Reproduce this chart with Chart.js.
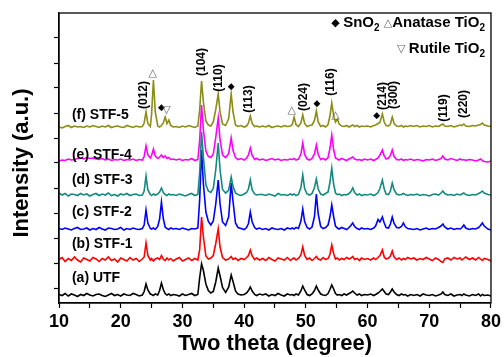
<!DOCTYPE html>
<html>
<head>
<meta charset="utf-8">
<script src="https://cdn.jsdelivr.net/npm/chart.js@4.4.0/dist/chart.umd.min.js"></script>
<style>
  html, body { margin: 0; padding: 0; background: #fff; }
</style>
</head>
<body>
<canvas id="xrd" width="504" height="357"></canvas>
<script>
// DATA - 2 theta grid (degree), shared by every pattern
const twoTheta = [
  10,10.5,11,11.5,12,12.5,13,13.5,14,14.5,15,15.5,16,16.5,17,17.5,18,18.5,19,19.5,20,20.5,21,21.5,22,22.5,23,23.5,
  23.8,24.1,24.4,24.8,25.0,25.3,25.6,26.0,26.3,26.6,26.9,27.2,27.5,27.8,28.1,28.5,
  29,29.5,30,30.5,31,31.5,32,32.5,
  32.8,33.1,33.4,33.8,34.2,34.6,35.0,35.4,35.8,36.1,36.5,37.0,37.5,37.9,38.2,38.6,39,39.5,40,40.4,40.7,41.0,41.3,41.7,42,42.5,
  43,43.5,44,44.5,45,45.5,46,46.5,47,47.5,
  47.8,48.1,48.4,48.8,49.2,49.5,49.8,50.2,50.6,51.0,51.4,51.7,52.0,52.4,52.8,53.2,53.6,53.9,54.2,54.5,54.8,55.1,55.4,55.8,56.2,56.6,57.0,57.3,57.6,57.9,58.3,58.7,59,59.5,
  60,60.5,61,61.3,61.7,62.0,62.4,62.7,63.0,63.4,63.7,64.0,64.3,64.7,65.1,65.5,65.8,66.1,66.5,67,
  67.5,68,68.5,69,69.5,70,70.5,71,71.5,71.9,72.2,72.5,73,73.5,74,74.5,75,75.3,75.6,75.9,76.5,77,77.5,78,78.3,78.6,78.9,79.5,80
];

// intensities (a.u.)
const utf = [
  22,18,26,16,24,20,14,22,18,26,20,16,22,24,18,14,20,26,18,22,16,24,20,18,26,22,16,20,
  34,64,40,24,22,18,24,20,38,68,42,26,20,24,18,22,
  20,16,24,18,22,26,18,22,
  90,144,118,64,38,28,34,72,128,96,50,30,52,100,74,36,24,20,22,28,38,52,36,22,18,24,
  20,24,16,22,18,26,20,16,24,20,
  22,18,24,20,36,56,40,22,18,24,38,56,40,24,20,18,26,42,60,44,26,20,22,18,24,20,26,30,36,28,20,24,18,22,
  20,24,18,22,28,34,44,34,24,22,32,44,32,22,18,24,20,22,16,22,
  18,22,16,24,20,18,22,16,20,24,32,22,18,24,16,20,22,18,24,20,16,22,18,24,16,22,18,20,16
];
const stf1 = [
  20,28,12,24,16,30,18,10,26,20,14,28,22,12,24,18,30,16,22,10,26,20,14,28,18,24,12,22,
  30,86,36,18,24,14,22,26,20,36,22,16,26,18,24,14,
  22,28,14,20,26,16,24,18,
  60,190,110,34,22,26,36,84,142,70,28,18,22,32,20,26,16,24,20,28,36,58,34,20,26,18,
  24,16,28,20,14,26,22,18,28,16,
  22,26,18,24,38,70,36,20,26,16,24,32,22,18,28,20,24,40,78,44,22,26,18,24,20,28,22,26,32,20,24,16,26,20,
  24,18,26,20,28,36,58,30,22,26,34,54,30,20,26,18,24,20,28,22,
  26,18,24,20,28,22,16,26,20,12,8,22,26,18,28,22,26,18,24,30,20,26,18,28,22,16,24,20,14
];
const stf2 = [
  22,18,24,20,16,22,26,18,20,24,16,22,18,26,20,16,24,22,18,20,26,16,22,18,24,20,18,22,
  36,96,44,22,20,24,18,30,60,128,62,28,22,18,24,20,
  22,18,24,20,16,22,20,24,
  140,336,200,88,50,36,52,120,216,120,48,34,70,204,130,44,26,22,18,26,42,88,48,26,20,24,
  18,22,16,24,20,18,22,16,24,20,
  24,20,26,22,52,100,50,26,20,28,70,160,80,30,22,26,36,68,116,70,32,24,20,26,22,18,26,34,44,30,22,18,24,20,
  22,18,24,32,58,48,68,44,26,24,40,68,42,26,24,30,44,30,22,20,
  18,22,16,20,24,18,22,20,26,32,40,28,20,24,18,22,20,26,36,24,18,22,20,26,34,44,32,20,16
];
const stf3 = [
  28,20,26,16,24,22,18,26,20,24,16,22,26,18,24,20,28,18,22,16,24,20,26,18,22,24,18,20,
  36,96,40,22,18,24,20,24,32,48,30,22,18,24,20,22,
  18,24,20,16,22,26,18,22,
  110,272,170,62,36,30,46,120,228,120,42,28,40,92,54,28,22,18,24,30,44,80,40,24,20,22,
  22,18,24,20,16,26,20,22,18,24,
  20,24,18,22,50,100,46,24,20,26,50,84,44,24,20,26,32,70,128,64,28,22,24,18,22,20,26,34,48,30,20,24,18,22,
  20,24,18,22,30,46,80,44,24,22,36,68,40,24,20,22,26,22,18,22,
  20,24,18,22,20,16,22,24,20,28,36,26,20,22,18,24,20,24,28,22,18,22,20,26,30,36,28,22,20
];
const stf4 = [
  16,20,18,24,20,22,26,28,24,30,26,28,24,22,26,20,24,18,22,20,24,18,22,20,24,18,22,20,
  34,76,40,28,38,64,36,26,32,40,30,36,26,30,22,24,
  20,24,18,22,20,26,18,22,
  100,240,140,56,34,30,44,110,188,100,40,30,46,108,58,30,22,26,20,28,40,68,38,22,26,20,
  24,18,22,26,20,24,18,22,20,24,
  22,26,20,24,44,88,42,24,20,26,44,80,42,22,26,20,30,66,120,62,28,24,20,26,22,18,24,28,32,24,20,22,18,24,
  20,24,18,22,28,40,60,36,24,28,38,60,34,22,20,24,18,22,20,24,
  18,22,20,16,22,20,24,18,22,26,36,24,20,26,22,18,24,20,22,18,22,20,16,20,24,18,14,12,16
];
const stf5 = [
  20,16,22,26,18,24,20,22,18,24,20,26,22,18,24,20,26,18,22,24,20,18,26,22,18,24,20,22,
  36,80,34,22,70,208,80,24,20,26,36,60,34,48,26,20,
  22,18,24,20,26,22,18,24,
  90,204,120,44,28,24,40,90,152,80,32,26,54,152,80,28,22,26,20,24,36,64,34,22,24,20,
  24,20,26,18,22,24,20,26,22,24,
  30,60,30,22,36,68,34,22,26,28,46,84,40,22,26,20,30,64,116,66,40,52,32,24,22,26,20,24,28,22,26,20,24,22,
  24,20,26,28,34,38,72,40,26,24,32,60,34,24,22,26,20,24,22,26,
  22,26,20,24,22,26,20,24,22,28,32,24,22,26,20,24,28,26,32,24,22,26,24,28,30,36,28,24,22
];

// stacking: vertical shift of each pattern
const sampleNames = ['(a) UTF', '(b) STF-1', '(c) STF-2', '(d) STF-3', '(e) STF-4', '(f) STF-5'];
const patterns = [utf, stf1, stf2, stf3, stf4, stf5];
const offsets = [-48, 94, 216, 352, 492, 624];
const colors = ['#000000', '#ff0000', '#0000ff', '#138a80', '#ff00ff', '#8c8c16'];
const nameLevel = [40, 176, 304, 432, 532, 692];

const xTicks = [10, 15, 20, 25, 30, 35, 40, 45, 50, 55, 60, 65, 70, 75, 80];
const yTicks = [0, 100, 200, 300, 400, 500, 600, 700, 800, 900, 1000];

// peak indexes (rotated labels) and phase marks
const hklLabels = ['(012)', '(104)', '(110)', '(113)', '(024)', '(116)', '(214)', '(300)', '(119)', '(220)'];
const hklTheta  = [23.7, 33.2, 35.8, 40.8, 49.7, 54.0, 62.4, 64.2, 72.3, 75.5];
const hklLevel  = [772, 904, 840, 756, 764, 824, 768, 772, 720, 736];
const markText  = ['△', '◆', '▽', '◆', '△', '◆', '△', '◆'];
const markTheta = [25.2, 26.6, 27.4, 37.9, 47.7, 51.8, 54.8, 61.5];
const markLevel = [860, 720, 712, 804, 712, 736, 692, 688];

patterns.forEach((p, i) => {
  if (p.length !== twoTheta.length) throw new Error(sampleNames[i] + ' has ' + p.length + ' points, grid has ' + twoTheta.length);
});

const FONT = '"Liberation Sans", Arial, sans-serif';
const SYM = '"DejaVu Sans", sans-serif';

// datasets listed f..a so that (f) is drawn on top
const datasets = patterns.map((p, i) => ({
  label: sampleNames[i],
  data: twoTheta.map((t, k) => ({ x: t, y: p[k] + offsets[i] })),
  borderColor: colors[i],
  borderWidth: 1.6,
  pointRadius: 0,
  tension: 0,
  fill: false
})).reverse();

function drawRuns(ctx, runs, right, y) {
  const fontOf = r => r.sub ? 'bold 10px ' + FONT : r.sym ? '11px ' + SYM : 'bold 15px ' + FONT;
  let total = 0;
  runs.forEach(r => { ctx.font = fontOf(r); total += ctx.measureText(r.t).width; });
  let x = right - total;
  ctx.textAlign = 'left';
  runs.forEach(r => {
    ctx.font = fontOf(r);
    ctx.fillStyle = r.gray ? '#666' : '#000';
    ctx.fillText(r.t, x, r.sub ? y + 5 : y);
    x += ctx.measureText(r.t).width;
  });
}

const xrdText = {
  id: 'xrdText',
  afterDatasetsDraw(chart) {
    const { ctx, chartArea: a, scales: { x, y } } = chart;
    ctx.save();
    ctx.strokeStyle = '#000';
    ctx.lineWidth = 1.3;
    ctx.strokeRect(a.left, a.top, a.right - a.left, a.bottom - a.top);

    ctx.textBaseline = 'middle';
    ctx.fillStyle = '#000';
    ctx.textAlign = 'left';
    ctx.font = 'bold 14px ' + FONT;
    sampleNames.forEach((n, i) => ctx.fillText(n, x.getPixelForValue(12.1), y.getPixelForValue(nameLevel[i])));

    ctx.textAlign = 'center';
    ctx.font = 'bold 12px ' + FONT;
    hklLabels.forEach((t, i) => {
      ctx.save();
      ctx.translate(x.getPixelForValue(hklTheta[i]), y.getPixelForValue(hklLevel[i]));
      ctx.rotate(-Math.PI / 2);
      ctx.fillText(t, 0, 0);
      ctx.restore();
    });

    markText.forEach((t, i) => {
      ctx.font = (t === '◆' ? '9px ' : '11px ') + SYM;
      ctx.fillStyle = t === '◆' ? '#000' : '#666';
      ctx.fillText(t, x.getPixelForValue(markTheta[i]), y.getPixelForValue(markLevel[i]));
    });

    // legend of phases
    drawRuns(ctx, [
      { t: '◆ ', sym: true }, { t: 'SnO' }, { t: '2', sub: true }, { t: ' ' },
      { t: '△', sym: true, gray: true }, { t: 'Anatase TiO' }, { t: '2', sub: true }
    ], a.right - 6, 23);
    drawRuns(ctx, [
      { t: '▽ ', sym: true, gray: true }, { t: 'Rutile TiO' }, { t: '2', sub: true }
    ], a.right - 6, 49);

    // y title
    ctx.save();
    ctx.translate(22, (a.top + a.bottom) / 2 + 5);
    ctx.rotate(-Math.PI / 2);
    ctx.textAlign = 'center';
    ctx.fillStyle = '#000';
    ctx.font = 'bold 22px ' + FONT;
    ctx.fillText('Intensity (a.u.)', 0, 0);
    ctx.restore();
    ctx.restore();
  }
};

const config = {
  type: 'line',
  data: { datasets },
  options: {
    responsive: false,
    animation: false,
    layout: { padding: { left: 0, right: 11, top: 13, bottom: 0 } },
    plugins: { legend: { display: false }, tooltip: { enabled: false } },
    scales: {
      x: {
        type: 'linear',
        min: 10,
        max: 80,
        afterFit: s => { s.height = 54; },
        afterBuildTicks: s => { s.ticks = xTicks.map(v => ({ value: v })); },
        grid: { drawOnChartArea: false, tickLength: 5, color: '#000', tickWidth: 1.2 },
        border: { color: '#000', width: 1.3 },
        ticks: {
          padding: 3,
          maxRotation: 0,
          autoSkip: false,
          color: '#000',
          font: { family: FONT, size: 18, weight: 'bold' },
          callback: v => (v % 10 === 0 ? v : '')
        },
        title: {
          display: true,
          text: 'Two theta (degree)',
          color: '#000',
          padding: { top: 0, bottom: 0 },
          font: { family: FONT, size: 22, weight: 'bold' }
        }
      },
      y: {
        min: -60,
        max: 1100,
        afterFit: s => { s.width = 59; },
        afterBuildTicks: s => { s.ticks = yTicks.map(v => ({ value: v })); },
        grid: { drawOnChartArea: false, tickLength: 5, color: '#000', tickWidth: 1.2 },
        border: { color: '#000', width: 1.3 },
        ticks: { callback: () => '' }
      }
    }
  },
  plugins: [xrdText]
};

const xrdChart = new Chart(document.getElementById('xrd'), config);
</script>
</body>
</html>
